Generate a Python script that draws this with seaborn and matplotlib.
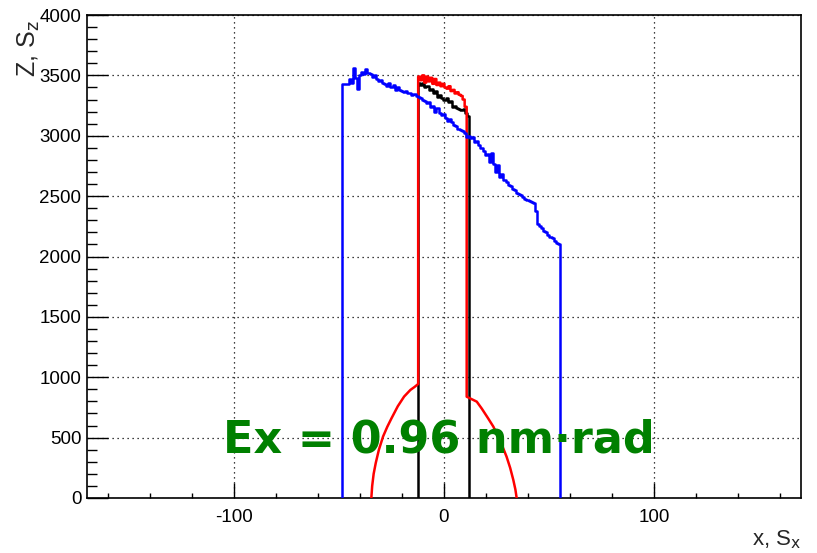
import numpy as np
import pandas as pd
import matplotlib
matplotlib.use("Agg")
import matplotlib.pyplot as plt
import seaborn as sns
from matplotlib.ticker import MultipleLocator

# ---------------- data ----------------
# blue histogram: bin contents, range x in [-48.4, 55.2]
blue_range = [-48.4, 55.2]
blue_vals = [3425, 3425, 3430, 3470, 3440, 3560, 3480, 3390, 3500, 3530,
             3510, 3550, 3520, 3510, 3490, 3500, 3470, 3450, 3460, 3440,
             3430, 3410, 3440, 3400, 3420, 3380, 3400, 3380, 3370, 3360,
             3370, 3350, 3355, 3340, 3345, 3330, 3320, 3310, 3300, 3290,
             3270, 3280, 3240, 3250, 3200, 3230, 3190, 3170, 3180, 3150,
             3120, 3140, 3110, 3090, 3080, 3060, 3050, 3040, 3020, 2990,
             3000, 2980, 2990, 2950, 2960, 2920, 2900, 2870, 2840, 2850,
             2780, 2860, 2770, 2700, 2760, 2660, 2680, 2630, 2620, 2590,
             2580, 2560, 2550, 2530, 2520, 2510, 2490, 2480, 2470, 2460,
             2450, 2440, 2380, 2270, 2250, 2240, 2210, 2200, 2180, 2160,
             2150, 2130, 2115, 2105]

# black histogram top
black_range = [-12.4, 11.9]
black_vals = [3440, 3420, 3440, 3400, 3410, 3380, 3390, 3350, 3370, 3320,
              3340, 3310, 3300, 3310, 3280, 3290, 3240, 3250, 3230, 3220,
              3210, 3220, 3190, 3160]

# red: core top + lower arcs
red_range = [-12.3, 10.8]
red_vals = [3490, 3460, 3500, 3440, 3490, 3450, 3480, 3430, 3470, 3420,
            3440, 3410, 3430, 3400, 3390, 3410, 3370, 3380, 3350, 3360,
            3340, 3330, 3300, 3240]
red_left_x = [-34.6, -34.2, -33.5, -32.5, -31, -29, -27, -25, -22, -19, -16, -14, -12.3]
red_left_y = [0, 100, 200, 290, 400, 510, 590, 660, 760, 840, 895, 920, 944]
red_right_x = [10.8, 13, 15.6, 18, 21, 23.5, 26, 28, 29.8, 31.5, 33, 34, 34.6]
red_right_y = [839, 820, 798, 740, 660, 591, 500, 420, 342, 250, 150, 70, 0]

annotation = "Ex = 0.96 nm\u00b7rad"
x_label = "x, S$_{\\rm x}$"
y_label = "Z, S$_{\\rm z}$"


def step_path(rng, vals, base_left=0.0, base_right=0.0):
    edges = np.linspace(rng[0], rng[1], len(vals) + 1)
    xs = [edges[0]]
    ys = [base_left]
    for i, v in enumerate(vals):
        xs += [edges[i], edges[i + 1]]
        ys += [v, v]
    xs.append(edges[-1])
    ys.append(base_right)
    return xs, ys


bx, by = step_path(blue_range, blue_vals)
kx, ky = step_path(black_range, black_vals)
rx_core, ry_core = step_path(red_range, red_vals,
                             base_left=red_left_y[-1], base_right=red_right_y[0])
rx = red_left_x[:-1] + rx_core + red_right_x[1:]
ry = red_left_y[:-1] + ry_core + red_right_y[1:]

blue_df = pd.DataFrame({"x": bx, "z": by})
black_df = pd.DataFrame({"x": kx, "z": ky})
red_df = pd.DataFrame({"x": rx, "z": ry})

# ---------------- figure ----------------
sns.set_style("ticks")
plt.rcParams["font.family"] = ["Liberation Sans", "DejaVu Sans"]
plt.rcParams["axes.unicode_minus"] = False

fig = plt.figure(figsize=(8.17, 5.53), dpi=100)
ax = fig.add_axes([87 / 817, 1 - 498 / 553, (801 - 87) / 817, (498 - 15) / 553])

sns.lineplot(data=black_df, x="x", y="z", sort=False, estimator=None,
             color="black", lw=1.8, ax=ax, zorder=3)
sns.lineplot(data=red_df, x="x", y="z", sort=False, estimator=None,
             color="#ff0000", lw=1.8, ax=ax, zorder=4)
sns.lineplot(data=blue_df, x="x", y="z", sort=False, estimator=None,
             color="#0000ff", lw=1.8, ax=ax, zorder=5)

ax.set_xlim(-170, 170)
ax.set_ylim(0, 4000)
ax.xaxis.set_major_locator(MultipleLocator(100))
ax.xaxis.set_minor_locator(MultipleLocator(20))
ax.yaxis.set_major_locator(MultipleLocator(500))
ax.yaxis.set_minor_locator(MultipleLocator(100))
ax.tick_params(axis="both", which="both", direction="in", colors="black",
               labelsize=13.5, width=1.0)
ax.tick_params(axis="x", which="major", length=11, pad=8)
ax.tick_params(axis="x", which="minor", length=3.5)
ax.tick_params(axis="y", which="major", length=15, pad=4)
ax.tick_params(axis="y", which="minor", length=7.5)
for s in ax.spines.values():
    s.set_linewidth(1.2)
    s.set_color("black")
ax.grid(True, which="major", color="black", linestyle=(0, (1, 3)), lw=0.9)
ax.set_axisbelow(True)

ax.set_xlabel("")
ax.set_ylabel("")
fig.text(801 / 817, 1 - 540 / 553, x_label, ha="right", va="center", fontsize=16)
fig.text(29 / 817, 1 - 77 / 553, y_label, ha="center", va="bottom", rotation=90,
         fontsize=18, zorder=1)

ax.text(-2.4, 480, annotation, color="#008000", fontsize=32, fontweight="bold",
        family=["DejaVu Sans"], ha="center", va="center", zorder=10)

fig.savefig("out.png", dpi=100)
